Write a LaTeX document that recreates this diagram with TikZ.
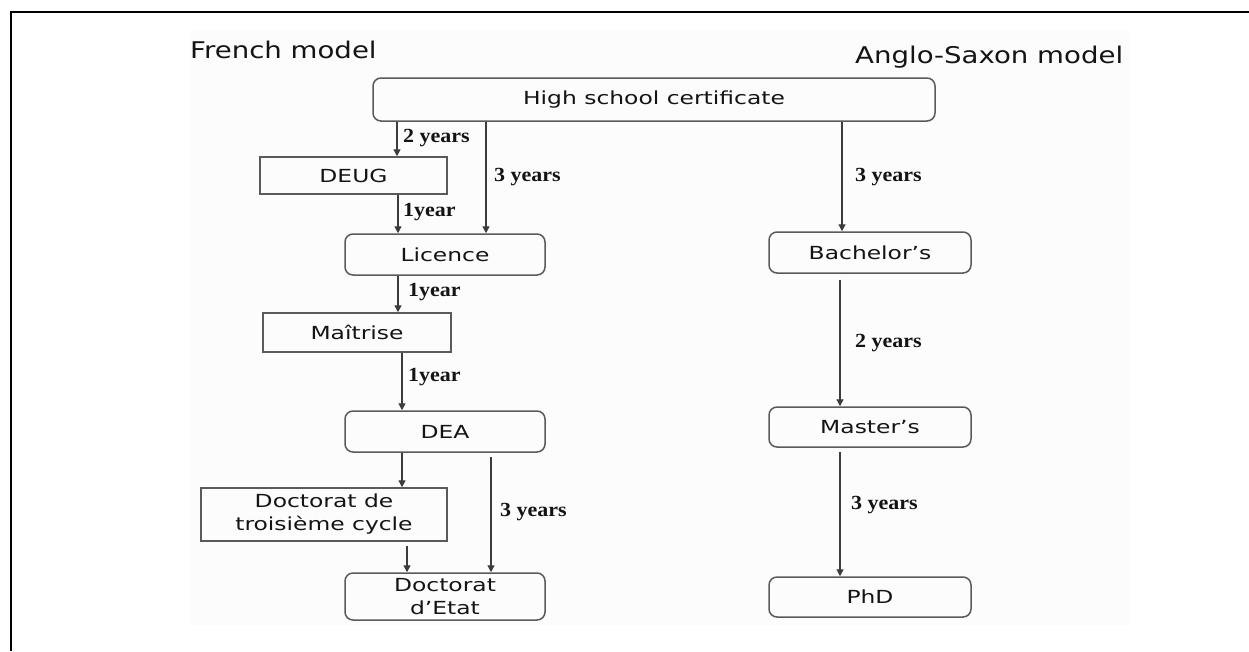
\documentclass[tikz,border=0pt]{standalone}
\usepackage{fontspec}
\usetikzlibrary{arrows.meta,calc}
\newfontfamily\boxfont[FakeStretch=1.3]{DejaVu Sans}
\newfontfamily\titlefont[FakeStretch=1.2]{DejaVu Sans}
\newfontfamily\yearfont[FakeStretch=1.1]{Liberation Serif}
\definecolor{framegray}{HTML}{5A5A5A}
\definecolor{linkgray}{HTML}{3C3C3C}
\definecolor{inkdark}{HTML}{141414}
\begin{document}
\begin{tikzpicture}[x=1pt,y=-1pt,
  sqbox/.style={draw=framegray,line width=1.5pt,inner sep=0pt,align=center,
    text=inkdark,font=\boxfont\fontsize{18}{23}\selectfont},
  rndbox/.style={sqbox,rounded corners=8pt},
  link/.style={draw=linkgray,line width=1.3pt,-{Triangle[width=7pt,length=7pt]}},
  yearlbl/.style={anchor=west,inner sep=0pt,text=inkdark,
    font=\yearfont\bfseries\fontsize{20}{24}\selectfont},
  titlelbl/.style={anchor=base west,inner sep=0pt,text=inkdark,
    font=\titlefont\fontsize{23}{28}\selectfont}]
\useasboundingbox (0,0) rectangle (1249,651);
\fill[white] (0,0) rectangle (1249,651);
% faint panel behind the chart
\fill[black!1] (190,30) rectangle (1130,625);
% open frame along the top and left
\draw[line width=2pt,black] (11,651) -- (11,12) -- (1249,12);

% column headings
\node[titlelbl] (fr) at (190,58) {French model};
\node[titlelbl] (as) at (855,63) {Anglo-Saxon model};

% degrees
\node[rndbox,minimum width=562pt,minimum height=43pt] (hs) at (654,99.5) {High school certificate};
\node[sqbox,minimum width=187pt,minimum height=37pt] (deug) at (353.5,175.5) {DEUG};
\node[rndbox,minimum width=200pt,minimum height=41pt] (lic) at (445,254.5) {Licence};
\node[sqbox,minimum width=188pt,minimum height=39pt] (mai) at (357,332.5) {Maîtrise};
\node[rndbox,minimum width=200pt,minimum height=41pt] (dea) at (445,431.5) {DEA};
\node[sqbox,minimum width=246pt,minimum height=53pt] (dtc) at (324,514.5) {Doctorat de\\troisième cycle};
\node[rndbox,minimum width=200pt,minimum height=47pt] (det) at (445,596.5) {Doctorat\\d’Etat};
\node[rndbox,minimum width=202pt,minimum height=41pt] (bac) at (870,252.5) {Bachelor’s};
\node[rndbox,minimum width=202pt,minimum height=40pt] (mas) at (870,427) {Master’s};
\node[rndbox,minimum width=202pt,minimum height=40pt] (phd) at (870,597) {PhD};

% French route
\draw[link] (397,0 |- hs.south) -- (397,0 |- deug.north);
\draw[link] (486,0 |- hs.south) -- (486,0 |- lic.north);
\draw[link] (398,0 |- deug.south) -- (398,0 |- lic.north);
\draw[link] (398,0 |- lic.south) -- (398,0 |- mai.north);
\draw[link] (402,0 |- mai.south) -- (402,0 |- dea.north);
\draw[link] (402,0 |- dea.south) -- (402,0 |- dtc.north);
\draw[link,shorten <=4pt] (407,0 |- dtc.south) -- (407,0 |- det.north);
\draw[link,shorten <=4pt] (491,0 |- dea.south) -- (491,0 |- det.north);

% Anglo-Saxon route
\draw[link] (842,0 |- hs.south) -- (842,0 |- bac.north);
\draw[link,shorten <=6pt] (840,0 |- bac.south) -- (840,0 |- mas.north);
\draw[link,shorten <=4pt] (840,0 |- mas.south) -- (840,0 |- phd.north);

% durations
\node[yearlbl] (y1) at (403,138) {2 years};
\node[yearlbl] (y2) at (494,177) {3 years};
\node[yearlbl] (y3) at (855,177) {3 years};
\node[yearlbl] (y4) at (403,212) {1year};
\node[yearlbl] (y5) at (408,292) {1year};
\node[yearlbl] (y6) at (408,377) {1year};
\node[yearlbl] (y7) at (500,512) {3 years};
\node[yearlbl] (y8) at (855,343) {2 years};
\node[yearlbl] (y9) at (851,505) {3 years};
\end{tikzpicture}
\end{document}
